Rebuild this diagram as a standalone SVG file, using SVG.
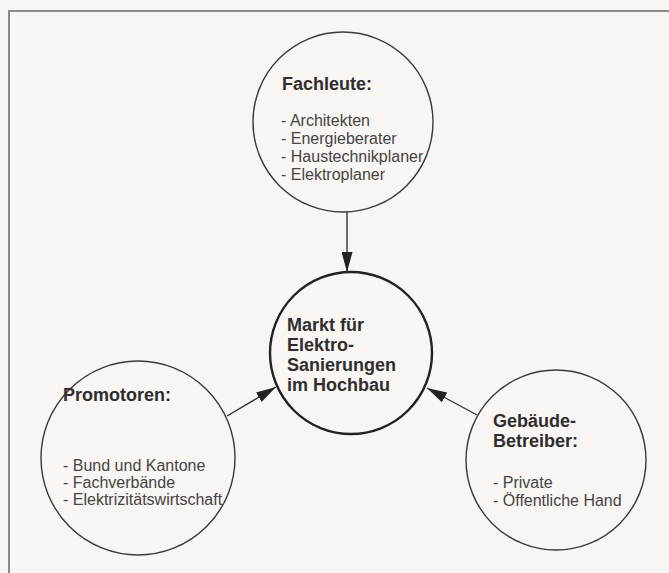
<svg xmlns="http://www.w3.org/2000/svg" width="669" height="573" viewBox="0 0 669 573">
<style>
.bg{fill:#f8f5f3}
.frame{stroke:#8a8a8a;stroke-width:2;fill:none}
.node{fill:none;stroke:#3a3a3a;stroke-width:1.4}
.main{fill:none;stroke:#222;stroke-width:2.4}
.t{font-family:"Liberation Sans",Arial,sans-serif;font-weight:bold;font-size:18px;fill:#2e2e2e}
.i{font-family:"Liberation Sans",Arial,sans-serif;font-size:16px;fill:#444}
.c{stroke:#333;stroke-width:1.4;fill:none;marker-end:url(#ah)}
</style>
<defs>
<marker id="ah" viewBox="0 0 20 11" refX="20" refY="5.5" markerWidth="20" markerHeight="11" markerUnits="userSpaceOnUse" orient="auto">
<path d="M0,0 L20,5.5 L0,11 Z" fill="#222"/>
</marker>
</defs>
<rect class="bg" x="0" y="0" width="669" height="573"/>
<path class="frame" d="M9,573 V11 H669"/>
<g id="connectors">
<line class="c" x1="347" y1="212" x2="347" y2="272"/>
<line class="c" x1="227" y1="416" x2="276" y2="387"/>
<line class="c" x1="477" y1="415" x2="427" y2="388"/>
</g>
<g id="fachleute">
<circle class="node" cx="343" cy="122" r="90"/>
<text class="t" x="282" y="90">Fachleute:</text>
<text class="i" x="281" y="126">- Architekten</text>
<text class="i" x="281" y="144">- Energieberater</text>
<text class="i" x="281" y="162">- Haustechnikplaner</text>
<text class="i" x="281" y="180">- Elektroplaner</text>
</g>
<g id="markt">
<circle class="main" cx="351" cy="353" r="81"/>
<text class="t" x="287" y="331">Markt für</text>
<text class="t" x="287" y="351">Elektro-</text>
<text class="t" x="287" y="371">Sanierungen</text>
<text class="t" x="287" y="391">im Hochbau</text>
</g>
<g id="promotoren">
<circle class="node" cx="138" cy="458" r="97"/>
<text class="t" x="63" y="401">Promotoren:</text>
<text class="i" x="63" y="471">- Bund und Kantone</text>
<text class="i" x="63" y="488">- Fachverbände</text>
<text class="i" x="63" y="505">- Elektrizitätswirtschaft</text>
</g>
<g id="gebaeude">
<circle class="node" cx="556" cy="460" r="90"/>
<text class="t" x="493" y="427">Gebäude-</text>
<text class="t" x="493" y="447">Betreiber:</text>
<text class="i" x="493" y="488">- Private</text>
<text class="i" x="493" y="506">- Öffentliche Hand</text>
</g>
</svg>
